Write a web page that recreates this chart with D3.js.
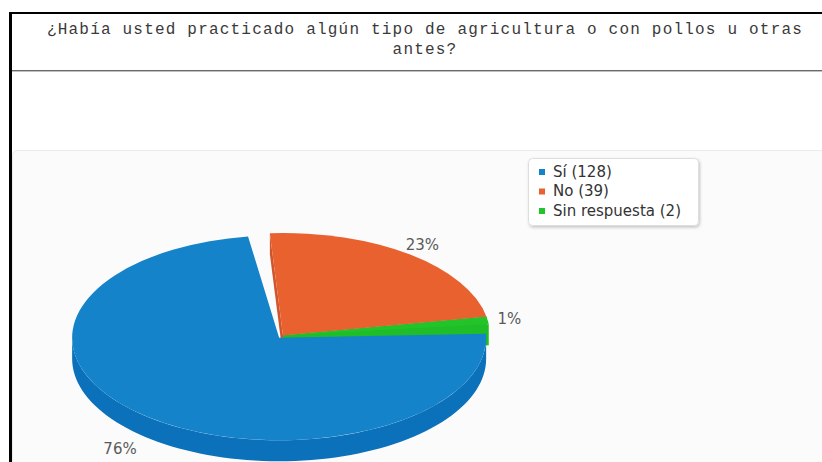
<!DOCTYPE html>
<html>
<head>
<meta charset="utf-8">
<script src="https://cdn.jsdelivr.net/npm/d3@7"></script>
<style>
  html, body { margin: 0; padding: 0; background: #fff; overflow: hidden; }
  svg { display: block; }
</style>
</head>
<body>
<svg id="chart" width="822" height="462"></svg>
<script>
// ---- data ----
const titleLines = [
  "¿Había usted practicado algún tipo de agricultura o con pollos u otras",
  "antes?"
];
const categories = ["Sí", "No", "Sin respuesta"];
const counts = [128, 39, 2];
const topColors = ["#1583c9", "#e8612f", "#22c42a"];
const wallColors = ["#0a71ba", "#cf552c", "#1fbd27"];

// ---- layout ----
const W = 822, H = 462;
const cx = 283, cy = 335.5, rx = 207, ry = 102.5, depth = 21;
const k = ry / rx;
const rad = d => d * Math.PI / 180;
const startAngle = rad(83.7);
const explode = [6, 0, 0];              // px the first slice is pulled out
const seamStart = [rad(4), 0, 0];       // white seams trimmed from a pulled slice
const seamEnd = [rad(5), 0, 0];

const svg = d3.select("#chart");

// shadow used by the legend box
const defs = svg.append("defs");
const f = defs.append("filter").attr("id", "legendShadow")
  .attr("x", "-10%").attr("y", "-10%").attr("width", "130%").attr("height", "140%");
f.append("feDropShadow").attr("dx", 1).attr("dy", 1.5).attr("stdDeviation", 1.6)
  .attr("flood-color", "#000").attr("flood-opacity", 0.22);

// ---- frame and title ----
svg.append("rect").attr("width", W).attr("height", H).attr("fill", "#fff");
svg.append("rect").attr("x", 9).attr("y", 12).attr("width", W - 9).attr("height", 2).attr("fill", "#000");
svg.append("rect").attr("x", 9).attr("y", 12).attr("width", 3).attr("height", H - 12).attr("fill", "#000");
svg.append("rect").attr("x", 12).attr("y", 70).attr("width", W - 12).attr("height", 1).attr("fill", "#6a6a6a");
svg.append("rect").attr("x", 12).attr("y", 71).attr("width", W - 12).attr("height", 1).attr("fill", "#c0c0c0");

svg.append("g").selectAll("text").data(titleLines).join("text")
  .attr("x", 425)
  .attr("y", (d, i) => 34 + i * 20)
  .attr("text-anchor", "middle")
  .attr("font-family", "'Liberation Mono', 'Courier New', monospace")
  .attr("font-size", 16)
  .attr("letter-spacing", 1.2)
  .attr("fill", "#3a3a3a")
  .text(d => d);

// ---- chart panel ----
svg.append("rect")
  .attr("x", 12.5).attr("y", 150.5).attr("width", W + 10).attr("height", H)
  .attr("rx", 5).attr("fill", "#fbfbfb").attr("stroke", "#ebebeb");

// ---- 3D pie ----
const pie = d3.pie().sort(null).startAngle(startAngle).endAngle(startAngle + 2 * Math.PI);
const arcs = pie(counts).map((a, i) => {
  const mid = (a.startAngle + a.endAngle) / 2;
  return {
    i, value: a.value,
    a0: a.startAngle + seamStart[i],
    a1: a.endAngle - seamEnd[i],
    mid,
    ox: explode[i] * Math.sin(mid),
    oy: -explode[i] * Math.cos(mid) * k
  };
});

const proj = (a, r, ox, oy) => [cx + ox + r * Math.sin(a), cy + oy - r * k * Math.cos(a)];

const pieG = svg.append("g");
const lineGen = d3.line();

function outerWall(s) {
  // only the front half of the rim (3 o'clock to 9 o'clock) is visible
  const lo = Math.max(s.a0 % (2 * Math.PI), Math.PI / 2);
  const hi = Math.min(s.a0 % (2 * Math.PI) + (s.a1 - s.a0), 3 * Math.PI / 2);
  if (hi <= lo) return null;
  const n = 80;
  const angles = d3.range(n + 1).map(j => lo + (hi - lo) * j / n);
  const topPts = angles.map(a => proj(a, rx, s.ox, s.oy));
  const botPts = angles.slice().reverse().map(a => {
    const p = proj(a, rx, s.ox, s.oy);
    return [p[0], p[1] + depth];
  });
  return lineGen(topPts.concat(botPts)) + "Z";
}

function radialWall(s, a) {
  const c = proj(a, 0, s.ox, s.oy);
  const r = proj(a, rx, s.ox, s.oy);
  return lineGen([c, r, [r[0], r[1] + depth], [c[0], c[1] + depth]]) + "Z";
}

const arcGen = d3.arc().innerRadius(0).outerRadius(rx);

function drawWalls(s, withRadial) {
  if (withRadial) {
    pieG.append("path").attr("d", radialWall(s, s.a0)).attr("fill", wallColors[s.i]);
    pieG.append("path").attr("d", radialWall(s, s.a1)).attr("fill", wallColors[s.i]);
  }
  const w = outerWall(s);
  if (w) pieG.append("path").attr("d", w).attr("fill", wallColors[s.i]);
}

function drawTop(s) {
  pieG.append("path")
    .attr("transform", `translate(${cx + s.ox},${cy + s.oy}) scale(1,${k})`)
    .attr("d", arcGen({ startAngle: s.a0, endAngle: s.a1 }))
    .attr("fill", topColors[s.i]);
}

const still = arcs.filter(s => explode[s.i] === 0);
const pulled = arcs.filter(s => explode[s.i] !== 0);

still.forEach(s => drawWalls(s, true));
still.forEach(drawTop);
pulled.forEach(s => { drawWalls(s, false); drawTop(s); });

// ---- percentage labels ----
const total = d3.sum(counts);
const pct = d3.format(".0%");
svg.append("g").selectAll("text").data(arcs).join("text")
  .attr("x", s => proj(s.mid, rx * 1.12, s.ox, s.oy)[0] - (Math.cos(s.mid) < 0 ? 10 : 3))
  .attr("y", s => proj(s.mid, rx * 1.12, s.ox, s.oy)[1] + (Math.cos(s.mid) < 0 ? depth + 2 : 0))
  .attr("text-anchor", "middle")
  .attr("dominant-baseline", "central")
  .attr("font-family", "'DejaVu Sans', Verdana, sans-serif")
  .attr("font-size", 15)
  .attr("fill", "#5a5a5a")
  .text(s => pct(s.value / total));

// ---- legend ----
const lg = svg.append("g").attr("transform", "translate(528,158)");
lg.append("rect")
  .attr("x", 0.5).attr("y", 0.5).attr("width", 170).attr("height", 67).attr("rx", 4)
  .attr("fill", "#fff").attr("stroke", "#dedede").attr("filter", "url(#legendShadow)");
const items = lg.selectAll("g.item").data(categories).join("g")
  .attr("class", "item")
  .attr("transform", (d, i) => `translate(0,${i * 19.5})`);
items.append("rect").attr("x", 11).attr("y", 11).attr("width", 6).attr("height", 6)
  .attr("fill", (d, i) => topColors[i]);
items.append("text").attr("x", 25).attr("y", 18.7)
  .attr("font-family", "'DejaVu Sans', Verdana, sans-serif")
  .attr("font-size", 15)
  .attr("fill", "#333")
  .text((d, i) => `${d} (${counts[i]})`);
</script>
</body>
</html>
